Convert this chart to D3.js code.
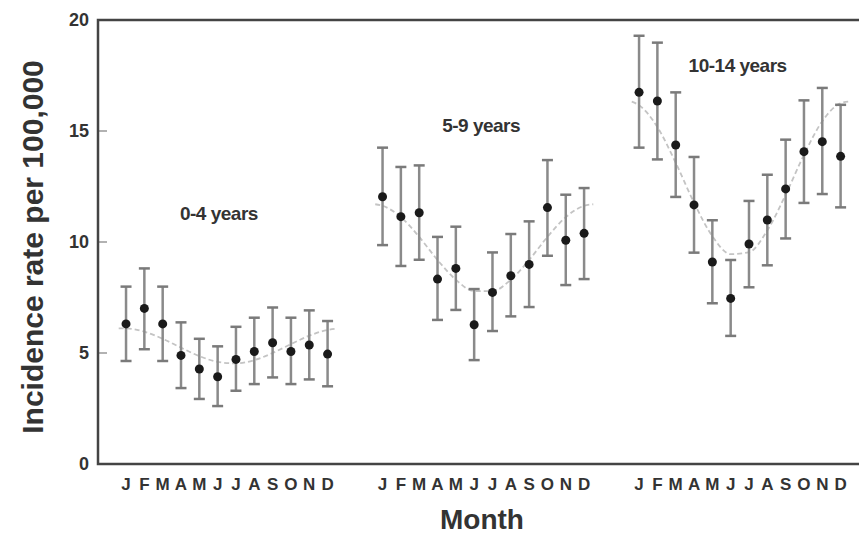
<!DOCTYPE html>
<html>
<head>
<meta charset="utf-8">
<script src="https://cdn.jsdelivr.net/npm/d3@7"></script>
<style>
  body { margin: 0; background: #fff; }
  text { font-family: "Liberation Sans", Arial, sans-serif; font-weight: bold; }
</style>
</head>
<body>
<script>

// data
var months = ["J", "F", "M", "A", "M", "J", "J", "A", "S", "O", "N", "D"];
var groups = ["0-4 years", "5-9 years", "10-14 years"];
var yTicks = [0, 5, 10, 15, 20];

var rate0 = [6.31, 7.01, 6.31, 4.89, 4.28, 3.93, 4.71, 5.07, 5.46, 5.07, 5.36, 4.95];
var upper0 = [7.99, 8.81, 7.99, 6.38, 5.64, 5.30, 6.18, 6.59, 7.05, 6.59, 6.92, 6.44];
var lower0 = [4.64, 5.17, 4.64, 3.42, 2.93, 2.61, 3.30, 3.60, 3.90, 3.60, 3.81, 3.50];

var rate1 = [12.04, 11.14, 11.32, 8.33, 8.81, 6.27, 7.73, 8.48, 8.99, 11.55, 10.08, 10.39];
var upper1 = [14.25, 13.38, 13.45, 10.23, 10.69, 7.88, 9.53, 10.36, 10.93, 13.69, 12.13, 12.43];
var lower1 = [9.86, 8.92, 9.20, 6.49, 6.94, 4.68, 5.99, 6.65, 7.07, 9.38, 8.06, 8.33];

var rate2 = [16.74, 16.35, 14.37, 11.67, 9.10, 7.46, 9.91, 10.99, 12.39, 14.07, 14.52, 13.86];
var upper2 = [19.29, 18.98, 16.74, 13.83, 10.98, 9.19, 11.85, 13.03, 14.61, 16.38, 16.94, 16.18];
var lower2 = [14.25, 13.72, 12.03, 9.52, 7.24, 5.77, 7.96, 8.95, 10.16, 11.76, 12.16, 11.56];

// dashed seasonal fit, read at month positions (first/last are the line ends)
var fitPos = [-0.4, 0, 1, 2, 3, 4, 5, 6, 7, 8, 9, 10, 11, 11.5];
var fit0 = [6.11, 6.11, 5.96, 5.64, 5.24, 4.86, 4.60, 4.53, 4.68, 5.00, 5.40, 5.78, 6.04, 6.10];
var fit1 = [11.70, 11.63, 11.12, 10.23, 9.19, 8.30, 7.79, 7.79, 8.30, 9.19, 10.23, 11.12, 11.63, 11.70];
var fit2 = [16.32, 16.16, 15.18, 13.57, 11.77, 10.26, 9.45, 9.54, 10.52, 12.13, 13.93, 15.44, 16.25, 16.33];

// label anchor: [month position, rate]
var labelPos = [[5.07, 11.0], [5.38, 14.95], [5.38, 17.66]];

var rates = [rate0, rate1, rate2];
var uppers = [upper0, upper1, upper2];
var lowers = [lower0, lower1, lower2];
var fits = [fit0, fit1, fit2];

var W = 859, H = 535;
var mLeft = 98, mTop = 20, mBottom = 464, mRight = 880;

var svg = d3.select("body")
  .append("svg")
  .attr("width", W)
  .attr("height", H);

// each group takes 14 slots (12 months + gap)
var x = d3.scaleLinear()
  .domain([-1.53, 41.15])
  .range([mLeft, mRight]);

var y = d3.scaleLinear()
  .domain([0, 20])
  .range([mBottom, mTop]);

function px(g, m) { return x(g * 14 + m); }

// inward ticks
svg.selectAll(".ytick")
  .data(yTicks.slice(1, 4))
  .enter().append("line")
  .attr("x1", mLeft)
  .attr("x2", mLeft + 9)
  .attr("y1", d => y(d))
  .attr("y2", d => y(d))
  .style("stroke", "#999")
  .style("stroke-width", 1.5);

svg.selectAll(".ylab")
  .data(yTicks)
  .enter().append("text")
  .attr("x", 89)
  .attr("y", d => y(d) + 6)
  .attr("text-anchor", "end")
  .style("font-size", "18px")
  .style("fill", "#333")
  .text(d => d);

// frame (left, top, bottom; the right side is cut off)
svg.append("path")
  .attr("d", "M" + (W + 5) + "," + mTop + "H" + mLeft + "V" + mBottom + "H" + (W + 5))
  .style("fill", "none")
  .style("stroke", "#444")
  .style("stroke-width", 2.5);

var line = d3.line()
  .curve(d3.curveMonotoneX);

groups.forEach(function(name, g) {
  var gg = svg.append("g");

  gg.append("path")
    .attr("d", line(fitPos.map((p, i) => [px(g, p), y(fits[g][i])])))
    .style("fill", "none")
    .style("stroke", "#c4c4c4")
    .style("stroke-width", 1.8)
    .style("stroke-dasharray", "5,3");

  months.forEach(function(m, i) {
    var cx = px(g, i);
    gg.append("line")
      .attr("x1", cx).attr("x2", cx)
      .attr("y1", y(lowers[g][i])).attr("y2", y(uppers[g][i]))
      .style("stroke", "#8a8a8a")
      .style("stroke-width", 2.5);
    [uppers[g][i], lowers[g][i]].forEach(function(v) {
      gg.append("line")
        .attr("x1", cx - 5.5).attr("x2", cx + 5.5)
        .attr("y1", y(v)).attr("y2", y(v))
        .style("stroke", "#7a7a7a")
        .style("stroke-width", 2.5);
    });
    gg.append("circle")
      .attr("cx", cx)
      .attr("cy", y(rates[g][i]))
      .attr("r", 4.5)
      .style("fill", "#1a1a1a");

    gg.append("text")
      .attr("x", cx)
      .attr("y", 490)
      .attr("text-anchor", "middle")
      .style("font-size", "17px")
      .style("fill", "#333")
      .text(m);
  });

  gg.append("text")
    .attr("x", px(g, labelPos[g][0]))
    .attr("y", y(labelPos[g][1]))
    .attr("text-anchor", "middle")
    .style("font-size", "19px")
    .style("letter-spacing", "-0.5px")
    .style("fill", "#333")
    .text(name);
});

svg.append("text")
  .attr("x", 482)
  .attr("y", 529)
  .attr("text-anchor", "middle")
  .style("font-size", "28px")
  .style("fill", "#333")
  .text("Month");

svg.append("text")
  .attr("transform", "translate(43,247) rotate(-90)")
  .attr("text-anchor", "middle")
  .style("font-size", "30px")
  .style("fill", "#333")
  .text("Incidence rate per 100,000");

</script>
</body>
</html>
